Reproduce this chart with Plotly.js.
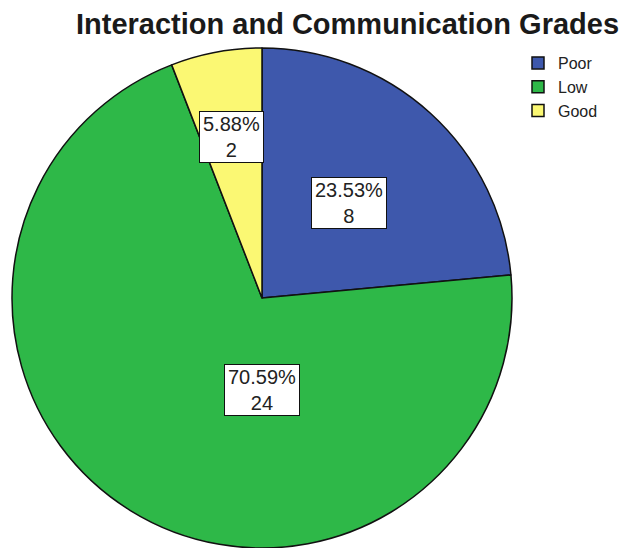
<!DOCTYPE html>
<html>
<head>
<meta charset="utf-8">
<script src="https://cdn.plot.ly/plotly-3.0.1.min.js"></script>
<style>html,body{margin:0;padding:0;background:#fff}#chart{width:624px;height:548px}</style>
</head>
<body>
<div id="chart"></div>
<script>
// ---- data ----
var categories = ["Poor", "Low", "Good"];
var counts = [8, 24, 2];
var sliceColors = ["#3E58AC", "#2EB848", "#FBF873"];
var chartTitle = "Interaction and Communication Grades";

// ---- layout config (positions / styles) ----
var W = 624, H = 548;
var pieBox = {left: 12, top: 48, size: 500};        // pixel box of the pie domain
// label placement relative to pie: fraction of radius, optional angle override (deg clockwise from top)
var labelPlacement = [{r: 0.514}, {r: 0.366, angle: 180}, {r: 0.657}];

var total = counts.reduce(function (a, b) { return a + b; }, 0);
var cx = pieBox.left + pieBox.size / 2, cy = pieBox.top + pieBox.size / 2, R = pieBox.size / 2;

var annotations = [];
var cum = 0;
counts.forEach(function (v, i) {
  var start = cum / total * 360, end = (cum + v) / total * 360;
  cum += v;
  var p = labelPlacement[i];
  var ang = (p.angle != null ? p.angle : (start + end) / 2) * Math.PI / 180;
  var px = cx + Math.sin(ang) * p.r * R;
  var py = cy - Math.cos(ang) * p.r * R;
  annotations.push({
    xref: "paper", yref: "paper",
    x: px / W, y: 1 - py / H, xanchor: "center", yanchor: "middle",
    text: (v / total * 100).toFixed(2) + "%<br>" + v,
    showarrow: false,
    font: {family: "Liberation Sans, Arial, sans-serif", size: 20, color: "#222"},
    bgcolor: "#ffffff", bordercolor: "#111", borderwidth: 1, borderpad: 3,
    height: 44, align: "center", valign: "middle"
  });
});

var trace = {
  type: "pie",
  labels: categories,
  values: counts,
  sort: false,
  direction: "clockwise",
  rotation: 0,
  textinfo: "none",
  hoverinfo: "label+value+percent",
  marker: {colors: sliceColors, line: {color: "#111", width: 1.5}},
  domain: {
    x: [pieBox.left / W, (pieBox.left + pieBox.size) / W],
    y: [1 - (pieBox.top + pieBox.size) / H, 1 - pieBox.top / H]
  }
};

var layout = {
  width: W, height: H,
  margin: {l: 0, r: 0, t: 0, b: 0},
  paper_bgcolor: "#ffffff",
  title: {
    text: "<b>" + chartTitle + "</b>",
    x: 347.5 / W, xanchor: "center", xref: "paper",
    y: 1 - 24 / H, yanchor: "middle", yref: "container",
    font: {family: "Liberation Sans, Arial, sans-serif", size: 29, color: "#1a1a1a"}
  },
  showlegend: true,
  legend: {
    x: 518 / W, xanchor: "left",
    y: 1 - 46 / H, yanchor: "top",
    font: {family: "Liberation Sans, Arial, sans-serif", size: 16, color: "#222"},
    bgcolor: "rgba(0,0,0,0)", borderwidth: 0, traceorder: "normal"
  },
  annotations: annotations
};

Plotly.newPlot("chart", [trace], layout, {displayModeBar: false, staticPlot: true});
</script>
</body>
</html>
